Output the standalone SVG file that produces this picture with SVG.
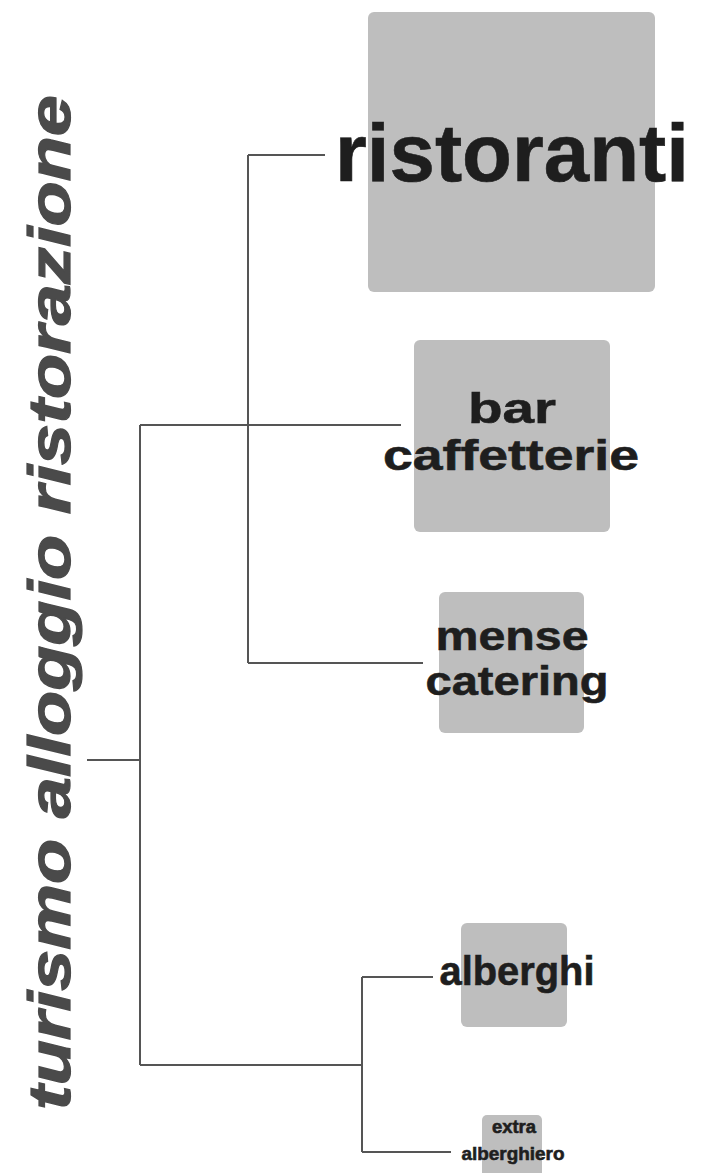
<svg xmlns="http://www.w3.org/2000/svg" width="702" height="1173" viewBox="0 0 702 1173">
<style>
.box{fill:#bebebe;}
.lbl{font-family:"Liberation Sans",Arial,sans-serif;font-weight:bold;fill:#1e1e1e;stroke:#1e1e1e;stroke-width:0.6;text-anchor:middle;}
.conn{stroke:#555555;stroke-width:2;fill:none;}
.title{font-family:"Liberation Sans",Arial,sans-serif;font-weight:bold;font-style:italic;fill:#4a4a4a;stroke:#4a4a4a;stroke-width:1.2;}
</style>
<rect width="702" height="1173" fill="#ffffff"/>
<g id="connectors">
<path class="conn" d="M87,760 H140 M140,425 V1065 M140,425 H401 M248,155 V663 M248,155 H325 M248,663 H423 M140,1065 H362 M362,977 V1152 M362,977 H433 M362,1152 H451"/>
</g>
<g id="root">
<text class="title" transform="translate(70,1110) rotate(-90)" font-size="60" textLength="1015" lengthAdjust="spacingAndGlyphs">turismo alloggio ristorazione</text>
</g>
<g id="ristoranti">
<rect class="box" x="368" y="12" width="287" height="280" rx="6"/>
<text class="lbl" x="512" y="181" font-size="82" stroke-width="1.5" textLength="354" lengthAdjust="spacingAndGlyphs">ristoranti</text>
</g>
<g id="bar-caffetterie">
<rect class="box" x="414" y="340" width="196" height="192" rx="6"/>
<text class="lbl" x="512" y="423" font-size="43" textLength="88" lengthAdjust="spacingAndGlyphs">bar</text>
<text class="lbl" x="511" y="470" font-size="43" textLength="256" lengthAdjust="spacingAndGlyphs">caffetterie</text>
</g>
<g id="mense-catering">
<rect class="box" x="439" y="592" width="145" height="141" rx="6"/>
<text class="lbl" x="512" y="650" font-size="41" textLength="153" lengthAdjust="spacingAndGlyphs">mense</text>
<text class="lbl" x="517" y="695" font-size="41" textLength="183" lengthAdjust="spacingAndGlyphs">catering</text>
</g>
<g id="alberghi">
<rect class="box" x="461" y="923" width="106" height="104" rx="6"/>
<text class="lbl" x="517" y="985" font-size="40" textLength="155" lengthAdjust="spacingAndGlyphs">alberghi</text>
</g>
<g id="extra-alberghiero">
<rect class="box" x="482" y="1115" width="60" height="62" rx="5"/>
<text class="lbl" x="514" y="1133" font-size="18" stroke-width="0" textLength="44" lengthAdjust="spacingAndGlyphs">extra</text>
<text class="lbl" x="513" y="1160" font-size="19" stroke-width="0" textLength="103" lengthAdjust="spacingAndGlyphs">alberghiero</text>
</g>
</svg>
